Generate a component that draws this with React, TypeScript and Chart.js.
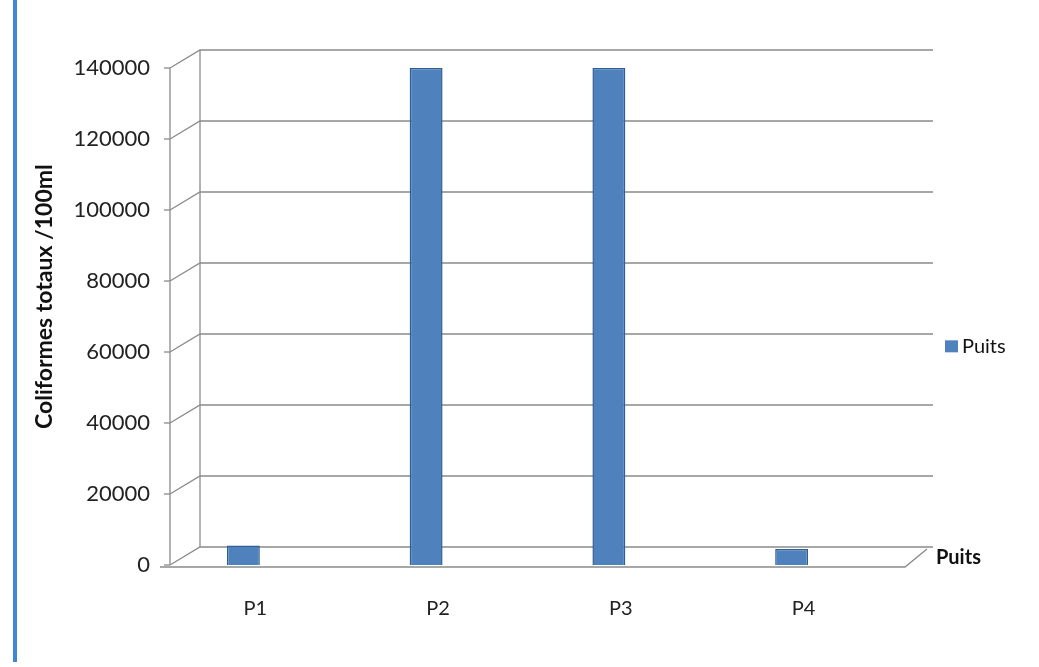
import React, { useEffect, useRef } from "react";
import { Chart, registerables } from "chart.js";

Chart.register(...registerables);

const categories = ["P1", "P2", "P3", "P4"];
const seriesName = "Puits";
const puitsValues = [5500, 140000, 140000, 4500];
const yTicks = [0, 20000, 40000, 60000, 80000, 100000, 120000, 140000];
const yTitle = "Coliformes totaux /100ml";

const FONT = "Lato, 'Open Sans', 'Liberation Sans', sans-serif";
const BAR = "#4F81BD";
const BAR_EDGE = "#2f5f92";
const GRID = "#8a8a8a";

// Depth offset used to draw the back wall and floor of the pseudo-3D frame
const DX = 30;
const DY = -18;
// The front vertical axis sits a little right of the category band start
const AXIS_SHIFT = 18;

const framePlugin = {
  id: "frame3d",
  beforeDatasetsDraw(chart: any) {
    const { ctx, chartArea, scales } = chart;
    const y = scales.y;
    const { right, bottom } = chartArea;
    const left = chartArea.left + AXIS_SHIFT;
    const topV = y.getPixelForValue(yTicks[yTicks.length - 1]);
    ctx.save();
    ctx.strokeStyle = GRID;
    ctx.lineWidth = 1.3;
    // gridlines: short slant from the axis, then across the back wall
    yTicks.forEach((v) => {
      const py = y.getPixelForValue(v);
      ctx.beginPath();
      ctx.moveTo(left, py);
      ctx.lineTo(left + DX, py + DY);
      ctx.lineTo(right + 50, py + DY);
      ctx.stroke();
      ctx.beginPath();
      ctx.moveTo(left - 6, py);
      ctx.lineTo(left, py);
      ctx.stroke();
    });
    // back wall left edge
    ctx.beginPath();
    ctx.moveTo(left + DX, topV + DY);
    ctx.lineTo(left + DX, bottom + DY);
    ctx.stroke();
    // front vertical axis
    ctx.beginPath();
    ctx.moveTo(left, topV);
    ctx.lineTo(left, bottom);
    ctx.stroke();
    // floor front edge and right side
    ctx.beginPath();
    ctx.moveTo(left - 10, bottom + 2);
    ctx.lineTo(right + 22, bottom + 2);
    ctx.lineTo(right + 44, bottom + DY + 2);
    ctx.stroke();
    ctx.restore();
  },
  afterDraw(chart: any) {
    const { ctx, chartArea } = chart;
    const { right, bottom, top } = chartArea;
    ctx.save();
    ctx.fillStyle = "#111";
    ctx.textBaseline = "middle";
    ctx.textAlign = "left";
    // depth axis label
    ctx.font = `bold 20px ${FONT}`;
    ctx.fillText(seriesName, right + 53, bottom - 7);
    // legend
    const ly = top + (bottom - top) * 0.56;
    ctx.fillStyle = BAR;
    ctx.fillRect(right + 62, ly - 6, 13, 12);
    ctx.fillStyle = "#111";
    ctx.font = `20px ${FONT}`;
    ctx.fillText(seriesName, right + 79, ly);
    // vertical axis title
    ctx.translate(45, top + (bottom - top) * 0.46);
    ctx.rotate(-Math.PI / 2);
    ctx.textAlign = "center";
    ctx.font = `bold 23px ${FONT}`;
    ctx.fillText(yTitle, 0, 0);
    ctx.restore();
  },
};

export default function App() {
  const ref = useRef<HTMLCanvasElement | null>(null);

  useEffect(() => {
    if (!ref.current) return;
    const chart = new Chart(ref.current, {
      type: "bar",
      data: {
        labels: categories,
        datasets: [
          {
            label: seriesName,
            data: puitsValues,
            backgroundColor: BAR,
            borderColor: BAR_EDGE,
            borderWidth: 1.5,
            barPercentage: 0.18,
            categoryPercentage: 1,
          },
        ],
      },
      options: {
        responsive: false,
        animation: false,
        layout: { padding: { top: 68, right: 156, left: 8, bottom: 0 } },
        plugins: {
          legend: { display: false },
          tooltip: { enabled: false },
        },
        scales: {
          x: {
            grid: { display: false, drawTicks: false },
            border: { display: false },
            ticks: {
              color: "#222",
              font: { family: FONT, size: 20 },
              padding: 32,
              labelOffset: 12,
            },
            afterFit: (s: any) => {
              s.height = 102;
            },
          },
          y: {
            min: 0,
            max: 140000,
            grid: { display: false, drawTicks: false },
            border: { display: false },
            afterBuildTicks: (s: any) => {
              s.ticks = yTicks.map((v) => ({ value: v }));
            },
            ticks: {
              color: "#222",
              font: { family: FONT, size: 22 },
              padding: 2,
              callback: (v: any) => String(v),
            },
            afterFit: (s: any) => {
              s.width = 144;
            },
          },
        },
      },
      plugins: [framePlugin],
    });
    return () => chart.destroy();
  }, []);

  return (
    <div
      style={{
        position: "fixed",
        left: 0,
        top: 0,
        width: 1039,
        height: 667,
        background: "#fff",
      }}
    >
      <div
        style={{
          position: "absolute",
          left: 13,
          top: 0,
          width: 4,
          height: 662,
          background: "#3f86d6",
        }}
      />
      <canvas ref={ref} width={1039} height={667} style={{ display: "block" }} />
    </div>
  );
}
